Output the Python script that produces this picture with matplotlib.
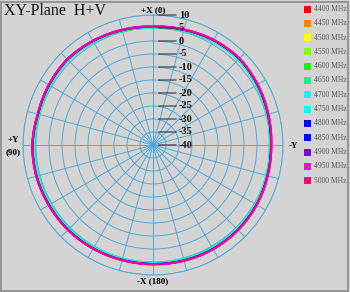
import numpy as np
import matplotlib
matplotlib.use('Agg')
import matplotlib.pyplot as plt
from matplotlib.patches import Rectangle

plt.rcParams['font.family'] = ['Liberation Serif', 'DejaVu Serif']

# angles in degrees, 0 = +X (top), counter-clockwise towards +Y (left)
angles = list(range(0, 360, 15))

freqs = ['4400 MHz', '4450 MHz', '4500 MHz', '4550 MHz', '4600 MHz', '4650 MHz', '4700 MHz',
         '4750 MHz', '4800 MHz', '4850 MHz', '4900 MHz', '4950 MHz', '5000 MHz']
colors = ['#ff0000', '#ff8000', '#ffff00', '#80ff00', '#00ff00', '#00ff80', '#00ffff',
          '#00ffff', '#0000ff', '#0000ff', '#8000ff', '#ff00ff', '#ff0080']

g4400 = [5.1, 5.4, 5.8, 6.1, 5.8, 5.4, 6.0, 6.0, 5.8, 5.9, 5.7, 5.5, 5.5, 5.6, 5.8, 5.9, 5.6, 5.2, 5.0, 5.4, 6.0, 6.5, 6.1, 5.5]
g4450 = [5.2, 5.5, 5.8, 6.2, 5.9, 5.5, 6.0, 6.1, 5.9, 5.8, 5.6, 5.5, 5.4, 5.7, 5.9, 5.8, 5.7, 5.3, 5.1, 5.5, 6.1, 6.6, 6.2, 5.6]
g4500 = [5.1, 5.4, 5.9, 6.2, 5.8, 5.4, 5.9, 6.0, 5.8, 5.8, 5.6, 5.4, 5.4, 5.6, 5.8, 5.8, 5.6, 5.2, 5.0, 5.4, 6.0, 6.5, 6.2, 5.5]
g4550 = [5.0, 5.3, 5.7, 6.0, 5.7, 5.3, 5.8, 5.9, 5.7, 5.7, 5.5, 5.3, 5.3, 5.5, 5.7, 5.7, 5.5, 5.1, 4.9, 5.3, 5.9, 6.4, 6.0, 5.4]
g4600 = [5.0, 5.3, 5.7, 6.0, 5.6, 5.2, 5.6, 5.7, 5.5, 5.5, 5.3, 5.2, 5.2, 5.4, 5.5, 5.6, 5.5, 5.1, 4.9, 5.3, 5.9, 6.4, 6.0, 5.4]
g4650 = [5.1, 5.4, 5.7, 6.1, 5.7, 5.3, 5.6, 5.7, 5.5, 5.5, 5.4, 5.3, 5.3, 5.5, 5.6, 5.7, 5.5, 5.1, 5.0, 5.4, 5.9, 6.4, 6.1, 5.5]
g4700 = [5.2, 5.5, 5.8, 6.1, 5.8, 5.4, 5.8, 5.9, 5.7, 5.6, 5.5, 5.3, 5.3, 5.5, 5.7, 5.7, 5.6, 5.2, 5.0, 5.4, 6.0, 6.5, 6.1, 5.5]
g4750 = [5.2, 5.5, 5.9, 6.2, 5.9, 5.5, 5.9, 6.0, 5.8, 5.7, 5.5, 5.4, 5.4, 5.6, 5.8, 5.8, 5.6, 5.2, 5.1, 5.5, 6.1, 6.6, 6.2, 5.6]
g4800 = [5.4, 5.7, 6.1, 6.5, 6.1, 5.7, 6.3, 6.3, 6.1, 6.1, 5.9, 5.7, 5.7, 5.9, 6.1, 6.1, 5.9, 5.5, 5.3, 5.7, 6.3, 6.9, 6.5, 5.8]
g4850 = [5.5, 5.8, 6.2, 6.6, 6.2, 5.8, 6.4, 6.4, 6.2, 6.2, 6.0, 5.8, 5.8, 6.0, 6.2, 6.2, 6.0, 5.6, 5.4, 5.8, 6.4, 7.0, 6.6, 5.9]
g4900 = [5.6, 5.9, 6.3, 6.7, 6.3, 5.9, 6.5, 6.5, 6.3, 6.2, 6.0, 5.8, 5.9, 6.1, 6.3, 6.3, 6.1, 5.7, 5.5, 5.9, 6.5, 7.1, 6.7, 6.0]
g4950 = [5.6, 5.9, 6.3, 6.6, 6.3, 5.9, 6.4, 6.5, 6.3, 6.3, 6.1, 5.9, 5.9, 6.1, 6.3, 6.3, 6.1, 5.7, 5.5, 5.9, 6.5, 7.1, 6.7, 6.0]
g5000 = [5.5, 5.8, 6.2, 6.6, 6.2, 5.8, 6.3, 6.4, 6.2, 6.2, 6.0, 5.8, 5.8, 6.0, 6.2, 6.2, 6.0, 5.6, 5.5, 5.9, 6.5, 7.0, 6.6, 5.9]
gains = [g4400, g4450, g4500, g4550, g4600, g4650, g4700, g4750, g4800, g4850, g4900, g4950, g5000]

ring_values = [10, 5, 0, -5, -10, -15, -20, -25, -30, -35, -40]

bg = '#d4d4d4'
grid_c = '#52a8d6'

W, H = 350, 292
fig = plt.figure(figsize=(W / 100, H / 100), dpi=100, facecolor=bg)

# polar area: centre (153,145) px, radius 130 px
cx, cy, R = 153, 145, 130
ax = fig.add_axes([(cx - R) / W, (H - cy - R) / H, 2 * R / W, 2 * R / H], projection='polar')
ax.set_facecolor(bg)
ax.set_theta_zero_location('N')
ax.set_theta_direction(1)
ax.set_ylim(-40, 10)
ax.set_yticks(ring_values[:-1])
ax.set_yticklabels([])
ax.set_thetagrids(range(0, 360, 15), labels=[])
ax.grid(True, color=grid_c, lw=0.7)
ax.spines['polar'].set_color(grid_c)
ax.spines['polar'].set_linewidth(0.7)

th = np.deg2rad(angles + [360])
for g, c in zip(gains, colors):
    line, = ax.plot(th, g + [g[0]], color=c, lw=1.4)
    # let the polar transform draw arcs between the measured points
    line._path._interpolation_steps = 40

# radial labels with leader lines
for v in ring_values:
    ax.annotate(str(v), xy=(0, v), xytext=(26, 0), textcoords='offset pixels',
                ha='left', va='center', fontsize=7.5, fontweight='bold', color='#111111',
                arrowprops=dict(arrowstyle='-', color='#333333', lw=0.8, shrinkA=0, shrinkB=4))

# axis direction labels
fig.text(153 / W, 1 - 10 / H, '+X (0)', ha='center', va='center', fontsize=6.5, fontweight='bold')
fig.text(153 / W, 1 - 281 / H, '-X (180)', ha='center', va='center', fontsize=6.5, fontweight='bold')
fig.text(13 / W, 1 - 140 / H, '+Y', ha='center', va='center', fontsize=6.5, fontweight='bold')
fig.text(13 / W, 1 - 152 / H, '(90)', ha='center', va='center', fontsize=6.5, fontweight='bold')
fig.text(293 / W, 1 - 146 / H, '-Y', ha='center', va='center', fontsize=6.5, fontweight='bold')

fig.text(4 / W, 1 - 11 / H, 'XY-Plane  H+V', ha='left', va='center', fontsize=11.5, color='#111111')

# legend
for i, (f, c) in enumerate(zip(freqs, colors)):
    y = 9 + i * 14.3
    fig.patches.append(Rectangle((304 / W, 1 - (y + 3.5) / H), 7 / W, 7 / H, facecolor=c,
                                 edgecolor='none', transform=fig.transFigure))
    fig.text(314 / W, 1 - y / H, f, ha='left', va='center', fontsize=5.5, color='#555555')

# frame
fig.patches.append(Rectangle((1 / W, 1 / H), (W - 3) / W, (H - 3) / H, fill=False,
                             edgecolor='#8a8a8a', lw=1.2, transform=fig.transFigure))

plt.savefig('out.png', dpi=100, facecolor=bg)
